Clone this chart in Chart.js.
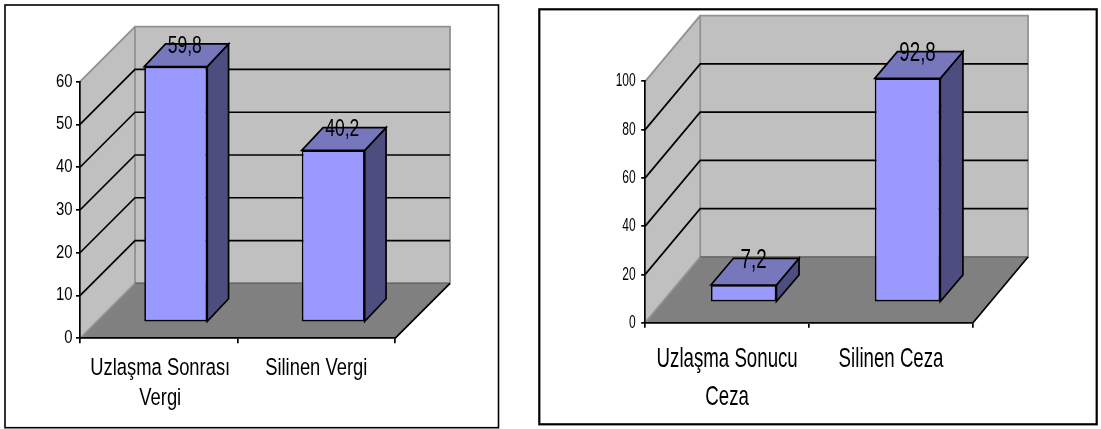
<!DOCTYPE html>
<html>
<head>
<meta charset="utf-8">
<style>
html,body{margin:0;padding:0;background:#fff;overflow:hidden}
canvas{position:absolute;top:0}
#vergi{left:0}
#ceza{left:530px}
</style>
<script src="https://cdn.jsdelivr.net/npm/chart.js@4"></script>
</head>
<body>
<canvas id="vergi" width="530" height="429"></canvas>
<canvas id="ceza" width="571" height="429"></canvas>
<script>
const vergiCategories = [["Uzlaşma Sonrası", "Vergi"], ["Silinen Vergi"]];
const vergiValues = [59.8, 40.2];
const vergiLabels = ["59,8", "40,2"];
const cezaCategories = [["Uzlaşma Sonucu", "Ceza"], ["Silinen Ceza"]];
const cezaValues = [7.2, 92.8];
const cezaLabels = ["7,2", "92,8"];

const FRONT = "#9999FF", TOP = "#7777BE", SIDE = "#4D4D80";
const WALL = "#C0C0C0", FLOOR = "#808080", EDGE = "#929292", SEAM = "#686868", INK = "#000";
const LINE = 1.7;

// Text squeezed horizontally around its anchor point.
function squeezed(ctx, text, x, y, size, sx, align, baseline) {
  ctx.save();
  ctx.translate(x, y);
  ctx.scale(sx, 1);
  ctx.font = size + 'px "Liberation Sans", Arial, sans-serif';
  ctx.fillStyle = INK;
  ctx.textAlign = align;
  ctx.textBaseline = baseline;
  ctx.fillText(text, 0, 0);
  ctx.restore();
}

function poly(ctx, pts, fill, stroke, width) {
  ctx.beginPath();
  pts.forEach((p, i) => i ? ctx.lineTo(p[0], p[1]) : ctx.moveTo(p[0], p[1]));
  ctx.closePath();
  if (fill) { ctx.fillStyle = fill; ctx.fill(); }
  if (stroke) { ctx.strokeStyle = stroke; ctx.lineWidth = width; ctx.stroke(); }
}

// Box, walls, floor and perspective grid, all derived from the chart's own scales.
const box3d = {
  id: "box3d",
  beforeDraw(chart, args, o) {
    const { ctx, chartArea: a, scales: { y } } = chart;
    const { wallDx: dx, wallDy: dy, frame: f } = o;
    ctx.save();
    ctx.fillStyle = "#fff";
    ctx.fillRect(f[0], f[1], f[2], f[3]);
    ctx.strokeStyle = INK;
    ctx.lineWidth = o.frameWidth;
    ctx.strokeRect(f[0], f[1], f[2], f[3]);

    poly(ctx, [[a.left, a.bottom], [a.left + dx, a.bottom - dy], [a.left + dx, a.top - dy], [a.left, a.top]], WALL);
    poly(ctx, [[a.left + dx, a.top - dy], [a.right + dx, a.top - dy], [a.right + dx, a.bottom - dy], [a.left + dx, a.bottom - dy]], WALL, EDGE, 1.8);
    poly(ctx, [[a.left, a.bottom], [a.right, a.bottom], [a.right + dx, a.bottom - dy], [a.left + dx, a.bottom - dy]], FLOOR);

    // Grey rim along the wall's top and the floor's left edge.
    ctx.strokeStyle = EDGE;
    ctx.lineWidth = 1.8;
    ctx.beginPath();
    ctx.moveTo(a.left, a.top);
    ctx.lineTo(a.left + dx, a.top - dy);
    ctx.moveTo(a.left, a.bottom);
    ctx.lineTo(a.left + dx, a.bottom - dy);
    ctx.stroke();

    // Darker seam where the back wall meets the floor.
    ctx.strokeStyle = SEAM;
    ctx.lineWidth = 1.4;
    ctx.beginPath();
    ctx.moveTo(a.left + dx, a.bottom - dy);
    ctx.lineTo(a.right + dx, a.bottom - dy);
    ctx.stroke();

    ctx.strokeStyle = INK;
    ctx.lineWidth = LINE;
    ctx.beginPath();
    y.ticks.forEach(t => {
      if (t.value <= y.min || t.value >= y.max) return;
      const py = y.getPixelForValue(t.value);
      ctx.moveTo(a.left, py);
      ctx.lineTo(a.left + dx, py - dy);
      ctx.lineTo(a.right + dx, py - dy);
    });
    ctx.moveTo(a.right, a.bottom);
    ctx.lineTo(a.right + dx, a.bottom - dy);
    ctx.stroke();
    ctx.restore();
  },
  // Side and top faces go down first; the library then paints the front face shifted onto the floor.
  beforeDatasetDraw(chart, args, o) {
    const ctx = chart.ctx;
    const { barShiftX: sx, barShiftY: sy, depthX: dx, depthY: dy } = o;
    ctx.save();
    ctx.translate(sx, -sy);
    args.meta.data.forEach(bar => {
      const { x, y, base, width } = bar.getProps(["x", "y", "base", "width"], true);
      const l = x - width / 2, r = x + width / 2;
      poly(ctx, [[r, y], [r + dx, y - dy], [r + dx, base - dy], [r, base]], SIDE, INK, LINE);
      poly(ctx, [[l, y], [l + dx, y - dy], [r + dx, y - dy], [r, y]], TOP, INK, LINE);
    });
  },
  afterDatasetDraw(chart) {
    chart.ctx.restore();
  },
  afterDatasetsDraw(chart, args, o) {
    const { ctx, scales: { x, y } } = chart;
    const meta = chart.getDatasetMeta(0);

    meta.data.forEach((bar, i) => {
      const p = bar.getProps(["x", "y"], true);
      squeezed(ctx, o.valueLabels[i], p.x + o.barShiftX + o.labelDx, p.y - o.barShiftY - o.labelDy,
        o.valueFont[0], o.valueFont[1], "center", "alphabetic");
    });

    y.ticks.forEach(t => {
      squeezed(ctx, String(t.value), chart.chartArea.left - o.tickGap, y.getPixelForValue(t.value),
        o.tickFont[0], o.tickFont[1], "right", "middle");
    });

    x.getLabels().forEach((lines, i) => {
      lines.forEach((line, j) => {
        squeezed(ctx, line, x.getPixelForValue(i) + o.catDx[i], o.catBaselines[j],
          o.catFont[0], o.catFont[1], "center", "alphabetic");
      });
    });
  }
};

function build(id, categories, values, axisMax, step, pad, style) {
  return new Chart(document.getElementById(id), {
    type: "bar",
    data: {
      labels: categories,
      datasets: [{
        data: values,
        backgroundColor: FRONT,
        borderColor: INK,
        borderWidth: LINE,
        borderSkipped: false,
        barPercentage: 0.4,
        categoryPercentage: 1,
        clip: false
      }]
    },
    options: {
      responsive: false,
      animation: false,
      events: [],
      layout: { padding: pad },
      plugins: { legend: { display: false }, tooltip: { enabled: false }, box3d: style },
      scales: {
        x: {
          afterFit(s) { s.height = 0; },
          ticks: { display: false },
          border: { color: INK, width: LINE },
          grid: { offset: true, drawOnChartArea: false, color: INK, lineWidth: LINE, tickLength: 5 }
        },
        y: {
          min: 0, max: axisMax,
          afterFit(s) { s.width = 0; },
          ticks: { display: false, stepSize: step },
          border: { color: INK, width: LINE },
          grid: { drawOnChartArea: false, color: INK, lineWidth: LINE, tickLength: 4 }
        }
      }
    },
    plugins: [box3d]
  });
}

build("vergi", vergiCategories, vergiValues, 60, 10,
  { left: 80, right: 135, top: 81.7, bottom: 90.7 },
  {
    frame: [5, 5, 493.5, 422.7], frameWidth: 1.6,
    wallDx: 55, wallDy: 55,
    barShiftX: 17, barShiftY: 16,
    depthX: 21.3, depthY: 22.7,
    labelDx: 9, labelDy: 14,
    valueLabels: vergiLabels,
    valueFont: [24, 0.73],
    tickGap: 7.4, tickFont: [17.5, 0.85],
    catFont: [24.5, 0.75], catDx: [1.5, 0], catBaselines: [375, 405]
  });

build("ceza", cezaCategories, cezaValues, 100, 20,
  { left: 115.2, right: 128, top: 81.3, bottom: 106.3 },
  {
    frame: [9.3, 9.3, 557.4, 415], frameWidth: 2.2,
    wallDx: 55, wallDy: 65.7,
    barShiftX: 16.5, barShiftY: 20.3,
    depthX: 22.6, depthY: 26.7,
    labelDx: 10, labelDy: 17.5,
    valueLabels: cezaLabels,
    valueFont: [28, 0.67],
    tickGap: 9.5, tickFont: [18.5, 0.65],
    catFont: [28, 0.667], catDx: [0, 0], catBaselines: [366.7, 405]
  });
</script>
</body>
</html>
